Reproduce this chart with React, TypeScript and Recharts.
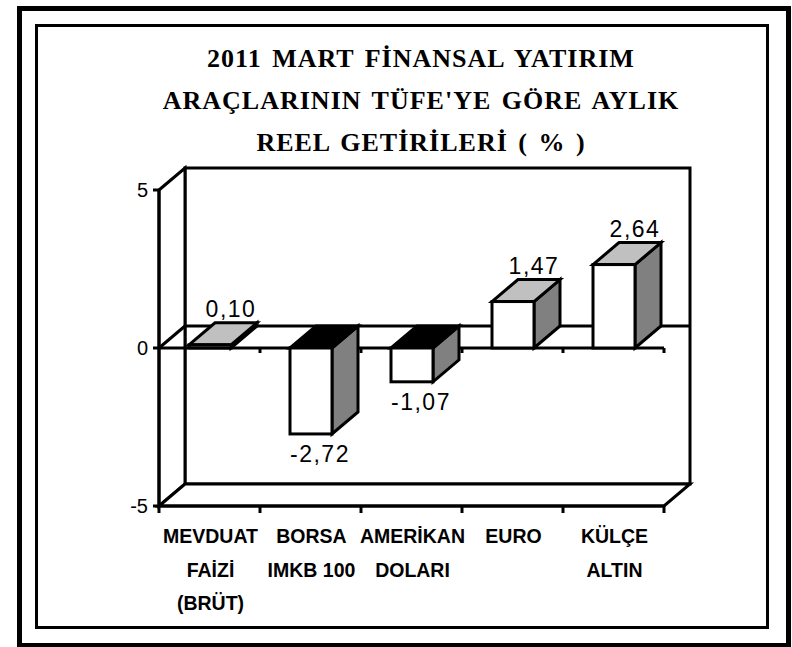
import { BarChart, Bar, XAxis, YAxis, ReferenceArea } from "recharts";

const titleLines = [
  "2011 MART FİNANSAL YATIRIM",
  "ARAÇLARININ TÜFE'YE GÖRE AYLIK",
  "REEL GETİRİLERİ ( % )",
];
const categories = [
  "MEVDUAT\nFAİZİ\n(BRÜT)",
  "BORSA\nIMKB 100",
  "AMERİKAN\nDOLARI",
  "EURO",
  "KÜLÇE\nALTIN",
];
const values = [0.1, -2.72, -1.07, 1.47, 2.64];
const yTicks = [-5, 0, 5];

const data = categories.map((name, i) => ({ name, value: values[i] }));

// depth of the fake 3d box
const DX = 26;
const DY = 22;
const LW = 3;
const SANS = "'Liberation Sans', Arial, sans-serif";

const fmt = (v: number) => v.toFixed(2).replace(".", ",");

// walls + floor, drawn from the full plot rect
function Walls(props: any) {
  const { x, y, width: w, height: h } = props;
  const b = y + h;
  return (
    <g stroke="#000" strokeWidth={LW} strokeLinejoin="miter">
      <rect x={x + DX} y={y - DY} width={w} height={h} fill="#fff" />
      <polygon
        points={`${x},${y} ${x + DX},${y - DY} ${x + DX},${b - DY} ${x},${b}`}
        fill="#fff"
      />
      <polygon
        points={`${x},${b} ${x + DX},${b - DY} ${x + w + DX},${b - DY} ${x + w},${b}`}
        fill="#fff"
      />
      {[0, 1, 2, 3, 4, 5].map((i) => (
        <line key={i} x1={x + (i * w) / 5} y1={b} x2={x + (i * w) / 5} y2={b + 7} />
      ))}
    </g>
  );
}

// zero plane, drawn from the area between -5 and 0 (its top is the zero line)
function ZeroPlane(props: any) {
  const { x, y, width: w } = props;
  return (
    <g stroke="#000" strokeWidth={LW} fill="none">
      <line x1={x} y1={y} x2={x + DX} y2={y - DY} />
      <line x1={x + DX} y1={y - DY} x2={x + w + DX} y2={y - DY} />
      <line x1={x} y1={y} x2={x + w} y2={y} />
      {[1, 2, 3, 4, 5].map((i) => (
        <line key={i} x1={x + (i * w) / 5} y1={y} x2={x + (i * w) / 5} y2={y + 5} />
      ))}
    </g>
  );
}

function Bar3D(props: any) {
  const { x, y, width: w, height, payload } = props;
  const v = payload.value as number;
  const top = Math.min(y, y + height);
  const bot = Math.max(y, y + height);
  const neg = v < 0;
  const lx = neg ? x + w / 2 + 9 : x + w / 2 + 21;
  const ly = neg ? bot + 28 : top - DY - 6;
  return (
    <g>
      <g stroke="#000" strokeWidth={LW} strokeLinejoin="miter">
        <polygon
          points={`${x + w},${top} ${x + w + DX},${top - DY} ${x + w + DX},${bot - DY} ${x + w},${bot}`}
          fill="#808080"
        />
        <polygon
          points={`${x},${top} ${x + DX},${top - DY} ${x + w + DX},${top - DY} ${x + w},${top}`}
          fill={neg ? "#000" : "#c0c0c0"}
        />
        <rect x={x} y={top} width={w} height={bot - top} fill="#fff" />
      </g>
      <text
        x={lx}
        y={ly}
        textAnchor="middle"
        fontFamily={SANS}
        fontSize={23}
        letterSpacing={1.5}
        fill="#000"
      >
        {fmt(v)}
      </text>
    </g>
  );
}

function CategoryTick(props: any) {
  const { x, y, payload } = props;
  const lines = String(payload.value).split("\n");
  return (
    <text
      textAnchor="middle"
      fontFamily={SANS}
      fontWeight="bold"
      fontSize={19.5}
      fill="#000"
    >
      {lines.map((l, i) => (
        <tspan key={i} x={x + 1} y={y + 37 + i * 33.5}>
          {l}
        </tspan>
      ))}
    </text>
  );
}

export default function App() {
  return (
    <div style={{ position: "absolute", left: 0, top: 0, width: 792, height: 647, background: "#fff" }}>
      <div
        style={{
          position: "absolute",
          left: 17,
          top: 6,
          width: 774,
          height: 642,
          border: "5px solid #000",
          boxSizing: "border-box",
        }}
      />
      <div
        style={{
          position: "absolute",
          left: 35,
          top: 24,
          width: 734,
          height: 605,
          border: "3.5px solid #000",
          boxSizing: "border-box",
        }}
      />
      <svg width={792} height={647} style={{ position: "absolute", left: 0, top: 0 }}>
        {titleLines.map((t, i) => (
          <text
            key={i}
            x={421}
            y={67 + i * 42}
            textAnchor="middle"
            fontFamily="'Liberation Serif', 'Times New Roman', serif"
            fontWeight="bold"
            fontSize={26}
            letterSpacing={1}
            wordSpacing={3}
            fill="#000"
          >
            {t}
          </text>
        ))}
      </svg>
      <div style={{ position: "absolute", left: 0, top: 0 }}>
        <BarChart
          width={792}
          height={647}
          data={data}
          margin={{ top: 190, right: 128, bottom: 41, left: 99 }}
        >
          <ReferenceArea y1={-5} y2={5} shape={<Walls />} ifOverflow="visible" />
          <ReferenceArea y1={-5} y2={0} shape={<ZeroPlane />} ifOverflow="visible" />
          <XAxis
            dataKey="name"
            height={100}
            interval={0}
            tickLine={false}
            tickSize={0}
            tickMargin={0}
            axisLine={{ stroke: "#000", strokeWidth: LW }}
            tick={<CategoryTick />}
          />
          <YAxis
            width={60}
            domain={[-5, 5]}
            ticks={yTicks}
            allowDataOverflow
            tickSize={6}
            tickMargin={5}
            axisLine={{ stroke: "#000", strokeWidth: LW }}
            tickLine={{ stroke: "#000", strokeWidth: LW }}
            tick={{ fill: "#000", fontSize: 20, fontFamily: SANS }}
          />
          <Bar dataKey="value" barSize={42} fill="#fff" shape={<Bar3D />} isAnimationActive={false} />
        </BarChart>
      </div>
    </div>
  );
}
